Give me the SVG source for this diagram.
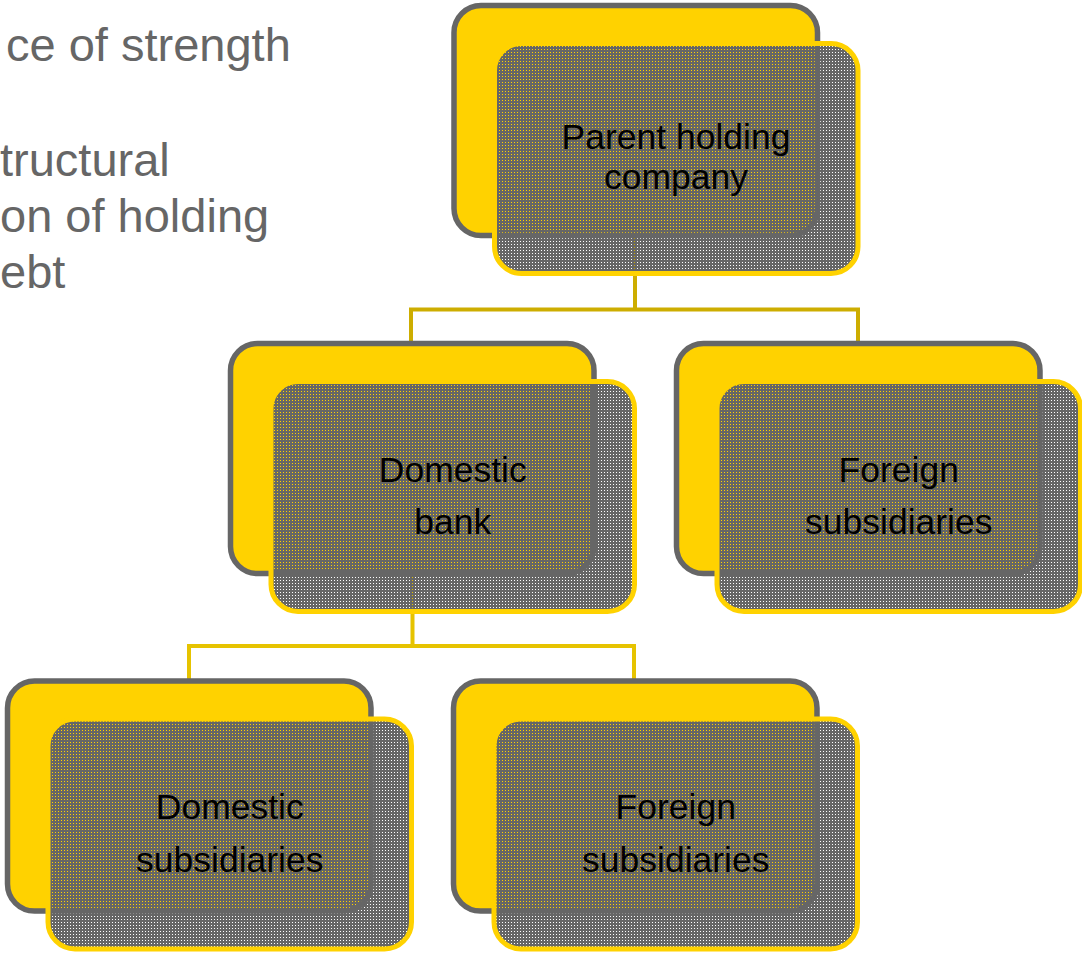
<svg xmlns="http://www.w3.org/2000/svg" width="1082" height="954" viewBox="0 0 1082 954">
  <style>
    .side { font-family: "Liberation Sans", Arial, sans-serif; font-size: 47px; fill: #666666; }
    .lbl { font-family: "Liberation Sans", Arial, sans-serif; font-size: 35.5px; fill: #000000; text-anchor: middle; }
    .back { fill: #FFD200; stroke: #666666; stroke-width: 5.5; }
    .front { fill: url(#dots); stroke: #FFD200; stroke-width: 5; }
    .conn { fill: none; stroke-width: 4; stroke-linejoin: miter; stroke-linecap: butt; }
  </style>
  <defs>
    <pattern id="dots" patternUnits="userSpaceOnUse" x="0" y="0" width="3" height="3">
      <path d="M0 0h3v3h-3z M1 1h1v1h-1z" fill="#666666" fill-rule="evenodd"/>
    </pattern>
  </defs>

  <g id="side-text">
    <text class="side" x="6" y="61">ce of strength</text>
    <text class="side" x="0" y="176">tructural</text>
    <text class="side" x="0" y="232">on of holding</text>
    <text class="side" x="0" y="288">ebt</text>
  </g>

  <g id="connectors">
    <path class="conn" stroke="#CDAD00" d="M635 236 V309.5 M411 343 V309.5 H858 V343"/>
    <path class="conn" stroke="#E6C300" d="M412.5 574 V646 M189 681 V646 H634 V681"/>
  </g>

  <g id="node-parent">
    <rect class="back" x="454" y="5.5" width="363.5" height="230" rx="27"/>
    <rect class="front" x="494.5" y="43.5" width="363.5" height="230" rx="27"/>
    <text class="lbl" x="676" y="149">Parent holding</text>
    <text class="lbl" x="676" y="189">company</text>
  </g>

  <g id="node-domestic-bank">
    <rect class="back" x="230.5" y="343.5" width="363.5" height="230" rx="27"/>
    <rect class="front" x="271" y="381.5" width="363.5" height="230" rx="27"/>
    <text class="lbl" x="452.75" y="482">Domestic</text>
    <text class="lbl" x="452.75" y="534">bank</text>
  </g>

  <g id="node-foreign-subsidiaries-1">
    <rect class="back" x="676.5" y="343.5" width="363.5" height="230" rx="27"/>
    <rect class="front" x="717" y="381.5" width="363.5" height="230" rx="27"/>
    <text class="lbl" x="898.75" y="482">Foreign</text>
    <text class="lbl" x="898.75" y="534">subsidiaries</text>
  </g>

  <g id="node-domestic-subsidiaries">
    <rect class="back" x="7.5" y="681" width="363.5" height="230" rx="27"/>
    <rect class="front" x="48" y="719" width="363.5" height="230" rx="27"/>
    <text class="lbl" x="229.75" y="818.5">Domestic</text>
    <text class="lbl" x="229.75" y="871.5">subsidiaries</text>
  </g>

  <g id="node-foreign-subsidiaries-2">
    <rect class="back" x="453.5" y="681" width="363.5" height="230" rx="27"/>
    <rect class="front" x="494" y="719" width="363.5" height="230" rx="27"/>
    <text class="lbl" x="675.75" y="818.5">Foreign</text>
    <text class="lbl" x="675.75" y="871.5">subsidiaries</text>
  </g>
</svg>
